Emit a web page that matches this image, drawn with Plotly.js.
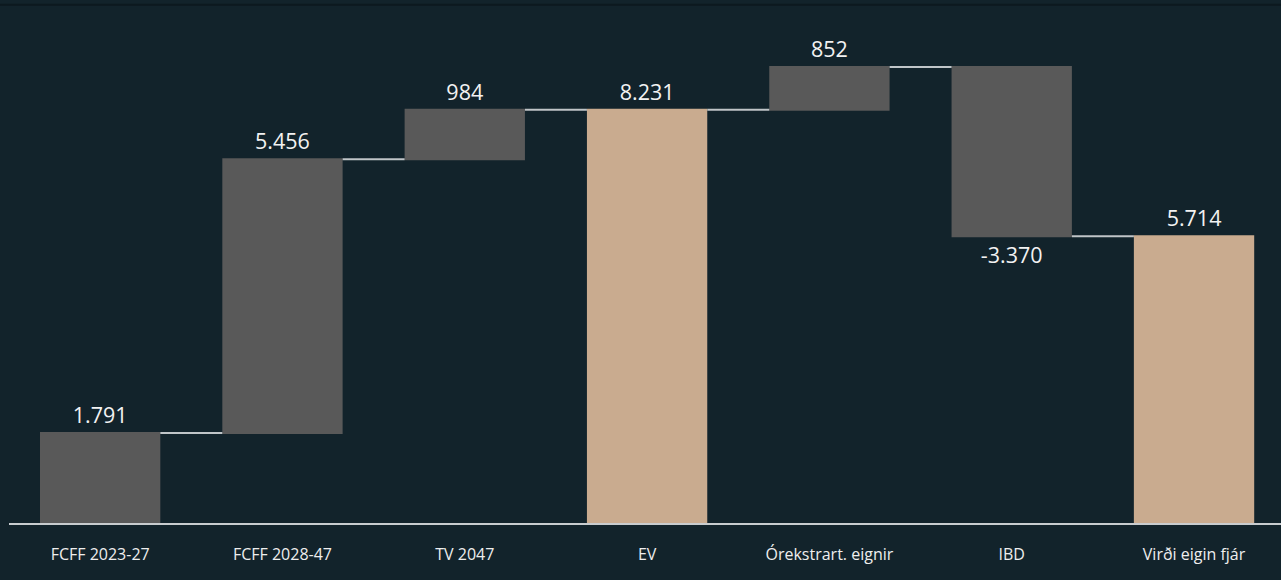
<!DOCTYPE html>
<html><head><meta charset="utf-8">
<script src="https://cdn.plot.ly/plotly-3.0.1.min.js"></script>
<style>html,body{margin:0;padding:0;background:#12232b;}#chart{width:1281px;height:580px;}</style>
</head><body><div id="chart"></div>
<script>
const categories = ["FCFF 2023-27","FCFF 2028-47","TV 2047","EV","Órekstrart. eignir","IBD","Virði eigin fjár"];
const values = [1791, 5456, 984, 8231, 852, -3370, 5714];
const measures = ["relative","relative","relative","absolute","relative","relative","absolute"];
const fmt = v => (v<0?"-":"") + Math.abs(v).toString().replace(/\B(?=(\d{3})+(?!\d))/g, ".");
const labels = values.map(fmt);

const trace = {
  type: "waterfall",
  x: categories,
  y: values,
  measure: measures,
  text: labels,
  textinfo: "text",
  textposition: "outside",
  cliponaxis: false,
  textfont: {family: "Open Sans, Noto Sans, sans-serif", size: 21.5, color: "#f2f2f2"},
  width: 0.66,
  increasing: {marker: {color: "#595959", line: {width: 0}}},
  decreasing: {marker: {color: "#595959", line: {width: 0}}},
  totals: {marker: {color: "#c9ab8f", line: {width: 0}}},
  connector: {line: {color: "#c0c5c8", width: 2}, mode: "between"},
  hoverinfo: "skip"
};
const layout = {
  width: 1281, height: 580,
  paper_bgcolor: "#12232b", plot_bgcolor: "#12232b",
  margin: {l: 9, r: 0, t: 10, b: 57},
  showlegend: false,
  separators: ",.",
  xaxis: {
    range: [-0.5, 6.477],
    showline: true, linecolor: "#c8cccf", linewidth: 2,
    showgrid: false, zeroline: false, ticks: "",
    ticklabelstandoff: 16,
    tickfont: {family: "Open Sans, Noto Sans, sans-serif", size: 16, color: "#eeeeee"}
  },
  yaxis: {
    range: [0, 10219], visible: false, showgrid: false, zeroline: false
  },
  shapes: [{type: "line", xref: "paper", yref: "paper", x0: -0.01, x1: 1.01, y0: 1.01, y1: 1.01, line: {color: "#0c191f", width: 2}}]
};
Plotly.newPlot("chart", [trace], layout, {staticPlot: true, displayModeBar: false});
</script></body></html>
